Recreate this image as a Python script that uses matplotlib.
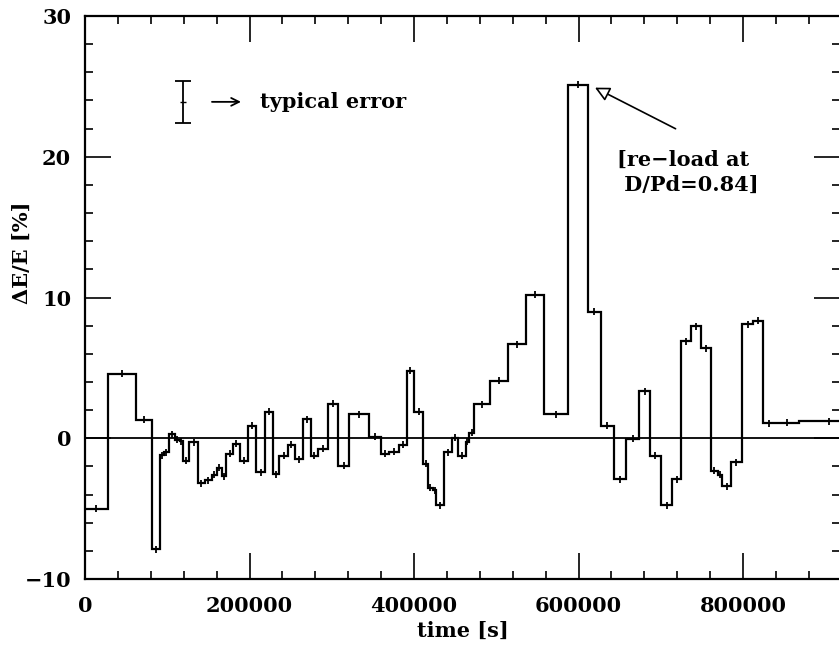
import numpy as np
import matplotlib
matplotlib.use('Agg')
import matplotlib.pyplot as plt
from matplotlib.ticker import MultipleLocator

# step edges in seconds and the relative change dE/E [%] of each interval
edges = [0, 27500, 62000, 82000, 91000, 96000, 102000, 109000, 115000, 119000,
         127000, 137000, 146000, 154000, 160000, 166000, 172000, 180000, 188000,
         198000, 208000, 219000, 228000, 236000, 247000, 255000, 265000, 275000,
         283000, 295000, 308000, 321000, 345000, 360000, 370000, 382000, 391000,
         400000, 411000, 417000, 423000, 427000, 437000, 446000, 453000, 463000,
         467000, 473000, 492000, 514000, 536000, 558000, 587000, 611000, 627000,
         643000, 658000, 674000, 687000, 700000, 714000, 725000, 737000, 749000,
         761000, 769000, 775000, 785000, 799000, 812000, 824000, 838000, 868000,
         940000]
dE = [-5.0, 4.6, 1.3, -7.9, -1.2, -1.0, 0.3, -0.1, -0.2, -1.6,
      -0.3, -3.2, -3.0, -2.6, -2.1, -2.7, -1.1, -0.4, -1.6, 0.9,
      -2.4, 1.9, -2.55, -1.25, -0.45, -1.5, 1.35, -1.25, -0.75, 2.45,
      -1.95, 1.7, 0.1, -1.1, -0.95, -0.45, 4.8, 1.9, -1.8, -3.5,
      -3.7, -4.75, -1.0, 0.05, -1.25, -0.25, 0.4, 2.4, 4.07, 6.67,
      10.2, 1.7, 25.1, 9.0, 0.9, -2.9, -0.05, 3.35, -1.25, -4.75,
      -2.9, 6.9, 7.95, 6.4, -2.3, -2.6, -3.4, -1.7, 8.1, 8.35,
      1.05, 1.1, 1.2]

err_x, err_y, err_size = 118600, 23.9, 1.5
font = dict(family='DejaVu Serif', weight='bold', size=15)

edges = np.array(edges)
mids = (edges[:-1] + edges[1:]) / 2

fig = plt.figure(figsize=(8.39, 6.53), dpi=100)
ax = fig.add_axes([0.1013, 0.1133, 0.9, 0.8622])

ax.stairs(dE, edges, baseline=None, color='black', lw=1.6)
ax.errorbar(mids, dE, yerr=0.25, fmt='none', ecolor='black', elinewidth=1.3)
ax.axhline(0, color='black', lw=1.3)

# typical error bar
ax.errorbar([err_x], [err_y], yerr=[err_size], fmt='_', color='black',
            ms=5, capsize=5.5, elinewidth=1.3, capthick=1.3)
ax.annotate('', xy=(193000, err_y), xytext=(151000, err_y),
            arrowprops=dict(arrowstyle='->', color='black', lw=1.3, mutation_scale=14))
ax.text(212500, err_y, 'typical error', va='center', ha='left', **font)

# re-load annotation
ax.annotate('', xy=(617000, 25.0), xytext=(721000, 21.9),
            arrowprops=dict(arrowstyle='-|>', fc='white', ec='black', lw=1.2,
                            mutation_scale=22))
ax.text(647000, 20.5, '[re\u2212load at\n D/Pd=0.84]', va='top', ha='left',
        linespacing=1.3, **font)

ax.set_xlim(0, 918000)
ax.set_ylim(-10, 30)
ax.xaxis.set_major_locator(MultipleLocator(200000))
ax.xaxis.set_minor_locator(MultipleLocator(40000))
ax.yaxis.set_major_locator(MultipleLocator(10))
ax.yaxis.set_minor_locator(MultipleLocator(2))
ax.tick_params(which='both', direction='in', top=True, right=True, width=1.2)
ax.tick_params(which='major', length=19)
ax.tick_params(which='minor', length=6)
ax.tick_params(axis='x', pad=12)
ax.tick_params(axis='y', pad=10)
for lab in ax.get_xticklabels() + ax.get_yticklabels():
    lab.set_fontproperties(matplotlib.font_manager.FontProperties(**font))
for sp in ax.spines.values():
    sp.set_linewidth(1.6)
ax.spines['right'].set_visible(False)

ax.set_xlabel('time [s]', labelpad=4, **font)
ax.set_ylabel('\u0394E/E [%]', **font)
ax.yaxis.set_label_coords(-0.07, 0.58)

fig.savefig('out.png', dpi=100)
